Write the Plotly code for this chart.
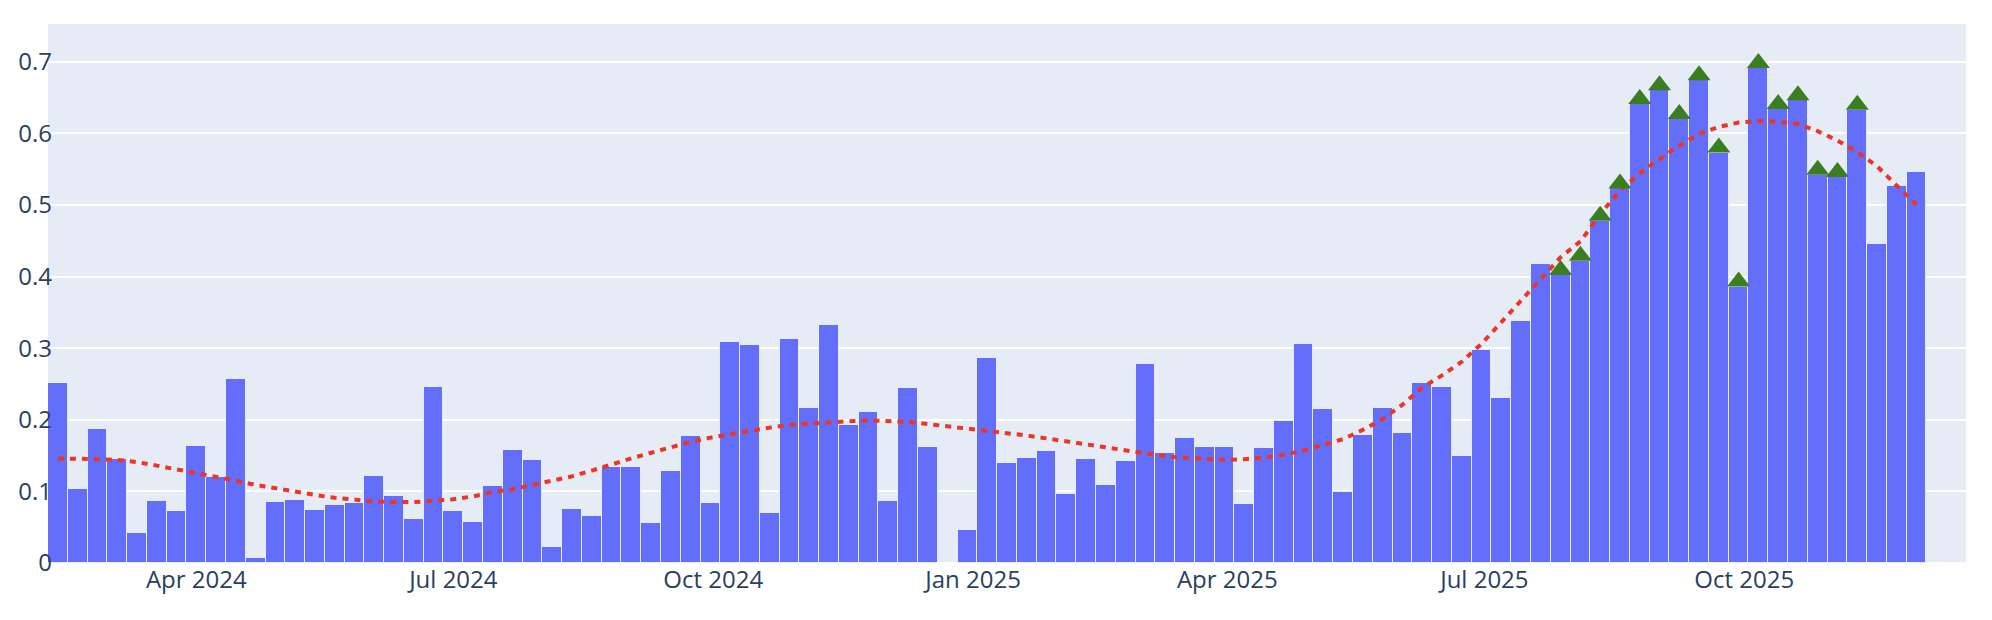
import pandas as pd
import plotly.graph_objects as go

# weekly periods (Monday starts)
week_start = "2024-02-12"
n_weeks = 97

# weekly values (None = no data)
values = [
    0.251, 0.103, 0.187, 0.145, 0.042, 0.087, 0.072, 0.163, 0.120, 0.257,
    0.007, 0.085, 0.088, 0.074, 0.081, 0.084, 0.121, 0.094, 0.061, 0.246,
    0.073, 0.057, 0.108, 0.158, 0.144, 0.023, 0.076, 0.066, 0.134, 0.134,
    0.056, 0.128, 0.177, 0.084, 0.308, 0.304, 0.070, 0.313, 0.216, 0.332,
    0.193, 0.211, 0.087, 0.245, 0.162, None, 0.046, 0.286, 0.139, 0.146,
    0.156, 0.097, 0.145, 0.109, 0.142, 0.278, 0.154, 0.175, 0.162, 0.162,
    0.083, 0.160, 0.198, 0.306, 0.215, 0.099, 0.179, 0.216, 0.181, 0.251,
    0.246, 0.150, 0.298, 0.231, 0.338, 0.417, 0.402, 0.422, 0.478, 0.523,
    0.641, 0.660, 0.620, 0.674, 0.573, 0.386, 0.691, 0.634, 0.646, 0.542,
    0.539, 0.633, 0.446, 0.527, 0.546, None, None,
]

# smoothed trend (one per week with data, weeks 1..95)
trend = [
    0.146, 0.146, 0.145, 0.144, 0.141, 0.136, 0.131, 0.126, 0.120, 0.115,
    0.109, 0.104, 0.099, 0.095, 0.091, 0.088, 0.086, 0.085, 0.085, 0.087,
    0.089, 0.093, 0.099, 0.103, 0.109, 0.115, 0.121, 0.129, 0.138, 0.146,
    0.154, 0.162, 0.169, 0.175, 0.180, 0.184, 0.189, 0.193, 0.195, 0.197,
    0.198, 0.199, 0.198, 0.197, 0.194, 0.191, 0.188, 0.184, 0.181, 0.178,
    0.174, 0.170, 0.166, 0.161, 0.157, 0.153, 0.149, 0.147, 0.145, 0.144,
    0.145, 0.147, 0.151, 0.157, 0.165, 0.173, 0.186, 0.201, 0.221, 0.245,
    0.262, 0.281, 0.306, 0.336, 0.368, 0.398, 0.427, 0.449, 0.487, 0.520,
    0.544, 0.564, 0.583, 0.599, 0.609, 0.615, 0.617, 0.616, 0.613, 0.603,
    0.590, 0.574, 0.554, 0.527, 0.500,
]

# weeks (1-based) flagged with a marker
flagged_weeks = [77, 78, 79, 80, 81, 82, 83, 84, 85, 86, 87, 88, 89, 90, 91, 92]

tick_labels_fmt = "%b %Y"

dates = pd.date_range(week_start, periods=n_weeks, freq="7D")

BAR_COLOR = "#636efa"
TREND_COLOR = "#EE3424"
MARK_COLOR = "#3a7e1f"
MARK_OFFSET = 0.007

fig = go.Figure()
fig.add_trace(go.Bar(
    x=dates, y=values,
    marker=dict(color=BAR_COLOR, line=dict(color="#E5ECF6", width=1)),
))
fig.add_trace(go.Scatter(
    x=dates[:len(trend)], y=trend, mode="lines",
    line=dict(color=TREND_COLOR, width=4, dash="6px,6px"),
))
fx = [dates[w - 1] for w in flagged_weeks]
fy = [values[w - 1] + MARK_OFFSET for w in flagged_weeks]
fig.add_trace(go.Scatter(
    x=fx, y=fy, mode="markers",
    marker=dict(symbol="triangle-up", size=20, color=MARK_COLOR, line=dict(width=0)),
))

half = pd.Timedelta(days=3.5)
# page body has an 8px default margin: figure is sized to fill the rest of the window
fig.update_layout(
    width=1984, height=612,
    margin=dict(l=40, r=26, t=16, b=57),
    showlegend=False,
    bargap=0,
    plot_bgcolor="#E5ECF6",
    paper_bgcolor="white",
    font=dict(family="Open Sans", size=24, color="#2a3f5f"),
)
fig.update_xaxes(
    range=[dates[0] - half, dates[-1] + half],
    dtick="M3", tick0="2024-01-01", tickformat=tick_labels_fmt,
    showgrid=False, zeroline=False, ticks="",
)
fig.update_yaxes(
    range=[0, 0.7526], dtick=0.1, showgrid=True, gridcolor="white", gridwidth=2,
    zeroline=True, zerolinecolor="white", zerolinewidth=2, ticks="",
    automargin=False, ticklabelstandoff=-5,
)

fig.write_html("out.html")
